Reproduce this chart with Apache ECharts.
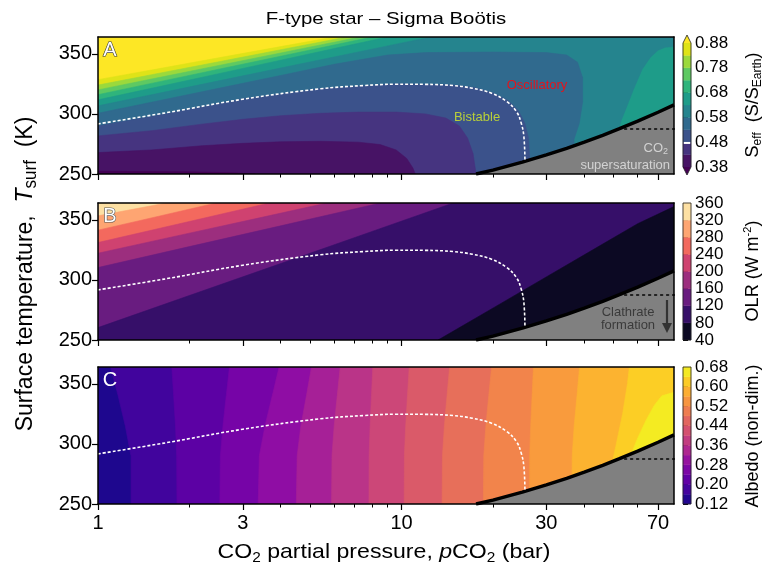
<!DOCTYPE html>
<html>
<head>
<meta charset="utf-8">
<script src="https://cdn.jsdelivr.net/npm/echarts@6/dist/echarts.min.js"></script>
<style>
  html, body { margin: 0; padding: 0; background: #fff; }
  #main { width: 766px; height: 574px; }
</style>
</head>
<body>
<div id="main"></div>
<script>
// axis ranges / ticks
const X_MIN = 1, X_MAX = 79;
const T_MIN = 250, T_MAX = 364;
const xMajorTicks = [1, 3, 10, 30, 70];
const xMinorTicks = [2, 4, 5, 6, 7, 8, 9, 20, 40, 50, 60];
const yTicks = [250, 300, 350];

// lines shared by all three panels (pCO2 bar, Tsurf K)
const satLine = [[17.6, 250], [20, 253.3], [25, 259.9], [30, 265.9], [35, 271.4], [40, 276.5], [46, 282.2], [52, 287.5], [60, 294], [70, 301.4], [79, 307.5]];
const satRegion = [[17.6, 250], [20, 253.3], [25, 259.9], [30, 265.9], [35, 271.4], [40, 276.5], [46, 282.2], [52, 287.5], [60, 294], [70, 301.4], [79, 307.5], [79, 250]];
const clathrateLine = [[52, 287.5], [79, 287.5]];
const bistableLine = [[1, 291.7], [1.68, 301], [3, 312.2], [5.36, 320.8], [7.5, 323.6], [9.57, 324.7], [12, 324.6], [14.8, 323.6], [17.1, 321.4], [19.8, 317.2], [22.2, 310.3], [23.9, 302], [24.8, 292.2], [25.3, 281], [25.5, 261]];

// panel A : Seff regions (value below level), painted top level first
const A_full = [[1, 250], [1, 364], [79, 364], [79, 250]];
const A_lt88 = [[1, 250], [1, 328.5], [1.5, 336.5], [2.5, 346.7], [4, 356], [6, 364], [79, 364], [79, 250]];
const A_lt83 = [[1, 250], [1, 324], [1.5, 332.6], [2.5, 343.4], [4, 353.4], [6.6, 364], [79, 364], [79, 250]];
const A_lt78 = [[1, 250], [1, 320], [1.5, 329], [2.5, 340.3], [4, 350.7], [7.3, 364], [79, 364], [79, 250]];
const A_lt73 = [[1, 250], [1, 316], [1.5, 325.4], [2.5, 337.2], [4, 348], [8, 364], [79, 364], [79, 250]];
const A_lt68 = [[1, 250], [1, 311.7], [1.5, 321.3], [2.5, 333.5], [4, 344.7], [6, 354.4], [9, 364], [79, 364], [79, 250]];
const A_lt63 = [[1, 250], [1, 306.7], [1.5, 315.9], [2.5, 327.5], [4, 338.2], [6, 347.4], [9, 356.6], [12.5, 364], [79, 364], [79, 356], [74, 355.5], [70, 353], [66, 347], [62, 337], [58, 320], [55, 305], [53, 295], [52, 288], [52, 250]];
const A_lt58 = [[1, 250], [1, 300.5], [1.5, 309.7], [2.5, 321.3], [4, 332], [6, 341.3], [9, 349], [12, 351], [20, 351.5], [30, 351], [35, 349], [38, 343], [39.5, 330], [39.5, 310], [38.5, 292], [37, 279], [37, 250]];
const A_lt53 = [[1, 250], [1, 290], [1.7, 300.5], [3, 312.5], [5.4, 321], [9.6, 325], [14.8, 324], [17.5, 321.8], [20, 317.5], [22.5, 311], [24.3, 302.5], [25.5, 292], [26.2, 280], [26.6, 250]];
const A_lt48 = [[1, 250], [1, 281.7], [1.5, 286], [2.2, 291.5], [3, 295.5], [4, 298.5], [5.4, 300.5], [7.2, 301.5], [9.6, 301.5], [12, 300], [14, 296.5], [15.5, 290], [16.5, 280], [17.2, 267], [17.6, 250]];
const A_lt43 = [[1, 250], [1, 267.8], [1.5, 270], [2.2, 273.5], [3, 275.5], [4, 276.8], [5.4, 277.2], [7.2, 276.5], [8.5, 274.5], [9.6, 270], [10.4, 263], [10.9, 255], [11.1, 250]];
const A_lt38 = [[1, 250], [1, 252.2], [2, 251.8], [2.8, 251], [3.3, 250]];
const A_colors = ['#fde725', '#dfe318', '#9bd93c', '#5ec962', '#2fb47c', '#1e9c89', '#25848e', '#306a8e', '#3b528b', '#463480', '#471365', '#440154'];

// panel B : OLR regions (value below level)
const B_full = [[1, 250], [1, 364], [79, 364], [79, 250]];
const B_lt320 = [[1, 250], [1, 353.3], [1.68, 364], [79, 364], [79, 250]];
const B_lt280 = [[1, 250], [1, 341.4], [1.6, 353.2], [2.45, 364], [79, 364], [79, 250]];
const B_lt240 = [[1, 250], [1, 331.1], [2, 348.6], [3.67, 364], [79, 364], [79, 250]];
const B_lt200 = [[1, 250], [1, 322.2], [2, 338.9], [3.5, 352.3], [5.68, 364], [79, 364], [79, 250]];
const B_lt160 = [[1, 250], [1, 310.3], [2, 327.7], [4, 345], [8.53, 364], [79, 364], [79, 250]];
const B_lt120 = [[1, 250], [1, 260.3], [2, 287], [4, 313.6], [8, 340.3], [14.8, 364], [79, 364], [79, 250]];
const B_lt80 = [[13.2, 250], [20, 276.5], [30, 302.5], [45, 328.4], [60, 346.8], [79, 361], [79, 250]];
const B_colors = ['#fde0a3', '#fea572', '#f3695e', '#cf4270', '#9c2e7e', '#691c80', '#360f69', '#0c0923'];

// panel C : albedo regions (value above level)
const C_full = [[1, 250], [1, 364], [79, 364], [79, 250]];
const C_gt16 = [[1.284, 250], [1.284, 290], [1.23, 315], [1.165, 340], [1.10, 364], [79, 364], [79, 250]];
const C_gt20 = [[1.82, 250], [1.816, 290], [1.80, 315], [1.775, 340], [1.75, 364], [79, 364], [79, 250]];
const C_gt24 = [[2.52, 250], [2.53, 290], [2.58, 315], [2.645, 340], [2.71, 364], [79, 364], [79, 250]];
const C_gt28 = [[3.37, 250], [3.40, 290], [3.55, 315], [3.75, 340], [3.95, 364], [79, 364], [79, 250]];
const C_gt32 = [[4.5, 250], [4.53, 290], [4.66, 315], [4.86, 340], [5.05, 364], [79, 364], [79, 250]];
const C_gt36 = [[5.88, 250], [5.9, 290], [6.0, 315], [6.14, 340], [6.28, 364], [79, 364], [79, 250]];
const C_gt40 = [[7.81, 250], [7.82, 290], [7.88, 315], [7.96, 340], [8.04, 364], [79, 364], [79, 250]];
const C_gt44 = [[10.2, 250], [10.22, 290], [10.32, 315], [10.46, 340], [10.6, 364], [79, 364], [79, 250]];
const C_gt48 = [[13.6, 250], [13.64, 290], [13.84, 315], [14.12, 340], [14.4, 364], [79, 364], [79, 250]];
const C_gt52 = [[18.6, 250], [18.66, 290], [18.96, 315], [19.38, 340], [19.8, 364], [79, 364], [79, 250]];
const C_gt56 = [[26.4, 250], [26.44, 290], [26.64, 315], [26.92, 340], [27.2, 364], [79, 364], [79, 250]];
const C_gt60 = [[36.4, 250], [36.5, 290], [37.05, 315], [37.85, 340], [38.6, 364], [79, 364], [79, 250]];
const C_gt64 = [[48, 250], [49, 280], [51, 300], [53.5, 325], [55.5, 350], [56.3, 364], [79, 364], [79, 250]];
const C_gt68 = [[57, 250], [57, 291], [60, 305], [64, 320], [68, 332], [72, 340], [79, 343], [79, 250]];
const C_colors = ['#1e078e', '#41049d', '#5c01a4', '#7604a7', '#8f0da4', '#a62097', '#ba3488', '#cc4778', '#da5a69', '#e76f5a', '#f2844b', '#f99b3d', '#fcb330', '#fcce25', '#f4eb22'];

// colour bars
const cbLevelsA = [0.38, 0.43, 0.48, 0.53, 0.58, 0.63, 0.68, 0.73, 0.78, 0.83, 0.88];
const cbTicksA = [0.38, 0.48, 0.58, 0.68, 0.78, 0.88];
const cbMarkA = 0.477;
const cbLevelsB = [40, 80, 120, 160, 200, 240, 280, 320, 360];
const cbTicksB = [40, 80, 120, 160, 200, 240, 280, 320, 360];
const cbLevelsC = [0.12, 0.16, 0.20, 0.24, 0.28, 0.32, 0.36, 0.40, 0.44, 0.48, 0.52, 0.56, 0.60, 0.64, 0.68];
const cbTicksC = [0.12, 0.20, 0.28, 0.36, 0.44, 0.52, 0.60, 0.68];
const cbColorsC = ['#220690', '#44049e', '#6101a6', '#7c07a6', '#9613a0', '#af2891', '#c23d81', '#d45170', '#e26660', '#ee7d50', '#f79540', '#fcae32', '#fccb26', '#f4e922'];

const regionsA = [A_full, A_lt88, A_lt83, A_lt78, A_lt73, A_lt68, A_lt63, A_lt58, A_lt53, A_lt48, A_lt43, A_lt38];
const regionsB = [B_full, B_lt320, B_lt280, B_lt240, B_lt200, B_lt160, B_lt120, B_lt80];
const regionsC = [C_full, C_gt16, C_gt20, C_gt24, C_gt28, C_gt32, C_gt36, C_gt40, C_gt44, C_gt48, C_gt52, C_gt56, C_gt60, C_gt64, C_gt68];

const FONT = '"Liberation Sans", Arial, sans-serif';
const LX0 = Math.log10(X_MIN), LX1 = Math.log10(X_MAX);
const lg = d => [Math.log10(d[0]), d[1]];

const chart = echarts.init(document.getElementById('main'));

const panelTops = [37, 203, 367];
const grids = panelTops.map(t => ({ left: 98, top: t, width: 576, height: 137 }));
grids.push({ left: 683, top: 43, width: 8, height: 124 });
grids.push({ left: 683, top: 203, width: 8, height: 137 });
grids.push({ left: 683, top: 367, width: 8, height: 137 });

const blackLine = { show: true, onZero: false, lineStyle: { color: '#000', width: 1.5 } };
let xAxes = [], yAxes = [];
for (let g = 0; g < 3; g++) {
  xAxes.push({
    type: 'value', gridIndex: g, min: LX0, max: LX1, position: 'bottom', z: 10,
    axisLine: blackLine,
    axisTick: { show: true, customValues: xMajorTicks.map(v => Math.log10(v)), length: 6, lineStyle: { color: '#000', width: 1.2 } },
    axisLabel: {
      show: g === 2, customValues: xMajorTicks.map(v => Math.log10(v)),
      formatter: v => String(Math.round(Math.pow(10, v))),
      fontSize: 20, fontFamily: FONT, color: '#000', margin: 9
    },
    splitLine: { show: false }
  });
  xAxes.push({
    type: 'value', gridIndex: g, min: LX0, max: LX1, position: 'bottom', z: 10,
    axisLine: { show: false },
    axisTick: { show: true, customValues: xMinorTicks.map(v => Math.log10(v)), length: 3.5, lineStyle: { color: '#000', width: 1 } },
    axisLabel: { show: false }, splitLine: { show: false }
  });
  xAxes.push({
    type: 'value', gridIndex: g, min: LX0, max: LX1, position: 'top', z: 10,
    axisLine: blackLine, axisTick: { show: false }, axisLabel: { show: false }, splitLine: { show: false }
  });
  yAxes.push({
    type: 'value', gridIndex: g, min: T_MIN, max: T_MAX, position: 'left', z: 10,
    axisLine: blackLine,
    axisTick: { show: true, customValues: yTicks, length: 6, lineStyle: { color: '#000', width: 1.2 } },
    axisLabel: { customValues: yTicks, fontSize: 20, fontFamily: FONT, color: '#000', margin: 6 },
    splitLine: { show: false }
  });
  yAxes.push({
    type: 'value', gridIndex: g, min: T_MIN, max: T_MAX, position: 'right', z: 10,
    axisLine: blackLine, axisTick: { show: false }, axisLabel: { show: false }, splitLine: { show: false }
  });
}
const cbDefs = [
  { levels: cbLevelsA, ticks: cbTicksA, fmt: v => v.toFixed(2) },
  { levels: cbLevelsB, ticks: cbTicksB, fmt: v => String(v) },
  { levels: cbLevelsC, ticks: cbTicksC, fmt: v => v.toFixed(2) }
];
cbDefs.forEach((d, i) => {
  xAxes.push({ type: 'value', gridIndex: 3 + i, min: 0, max: 1, show: false });
  yAxes.push({
    type: 'value', gridIndex: 3 + i, min: d.levels[0], max: d.levels[d.levels.length - 1], position: 'right',
    axisLine: { show: false },
    axisTick: { show: true, customValues: d.ticks, length: 5, lineStyle: { color: '#000', width: 1 } },
    axisLabel: {
      customValues: d.ticks, formatter: d.fmt, fontSize: 17, lineHeight: 14, fontFamily: FONT, color: '#000', margin: 4
    },
    splitLine: { show: false }
  });
});

function regionSeries(xi, yi, regions, colors, z) {
  return {
    type: 'custom', xAxisIndex: xi, yAxisIndex: yi, z: z, clip: true, silent: true,
    data: regions.map((r, i) => [i]),
    renderItem: function (params, api) {
      const i = params.dataIndex;
      const pts = regions[i].map(d => api.coord(lg(d)));
      return { type: 'polygon', shape: { points: pts }, style: { fill: colors[i], stroke: colors[i], lineWidth: 0.6 } };
    }
  };
}
function lineSeries(xi, yi, pts, style, z, smooth) {
  return {
    type: 'line', xAxisIndex: xi, yAxisIndex: yi, data: pts.map(lg), symbol: 'none',
    lineStyle: style, z: z, silent: true, smooth: smooth || false, clip: true
  };
}
function cbarSeries(k, levels, colors) {
  return {
    type: 'custom', xAxisIndex: 9 + k, yAxisIndex: 6 + k, clip: false, silent: true, z: 2,
    data: colors.map((c, i) => [i]),
    renderItem: function (params, api) {
      const i = params.dataIndex;
      const a = api.coord([0, levels[i]]), b = api.coord([1, levels[i + 1]]);
      return { type: 'rect', shape: { x: a[0], y: b[1], width: b[0] - a[0], height: a[1] - b[1] }, style: { fill: colors[i], stroke: colors[i], lineWidth: 0.4 } };
    }
  };
}
function cbarFrame(k, lo, hi, ext) {
  return {
    type: 'custom', xAxisIndex: 9 + k, yAxisIndex: 6 + k, clip: false, silent: true, z: 3,
    data: [[0]],
    renderItem: function (params, api) {
      const a = api.coord([0, lo]), b = api.coord([1, hi]);
      const mid = (a[0] + b[0]) / 2;
      const children = [];
      if (ext) {
        children.push({ type: 'polygon', shape: { points: [[a[0], a[1]], [b[0], a[1]], [mid, a[1] + 8]] }, style: { fill: ext[0] } });
        children.push({ type: 'polygon', shape: { points: [[a[0], b[1]], [b[0], b[1]], [mid, b[1] - 8]] }, style: { fill: ext[1] } });
        children.push({ type: 'polygon', shape: { points: [[a[0], a[1]], [mid, a[1] + 8], [b[0], a[1]], [b[0], b[1]], [mid, b[1] - 8], [a[0], b[1]]] }, style: { fill: 'none', stroke: '#222', lineWidth: 0.8 } });
      } else {
        children.push({ type: 'rect', shape: { x: a[0], y: b[1], width: b[0] - a[0], height: a[1] - b[1] }, style: { fill: 'none', stroke: '#222', lineWidth: 0.8 } });
      }
      return { type: 'group', children: children };
    }
  };
}

let series = [];
const panelRegions = [[regionsA, A_colors], [regionsB, B_colors], [regionsC, C_colors]];
panelRegions.forEach((pr, g) => {
  const xi = g * 3, yi = g * 2;
  series.push(regionSeries(xi, yi, pr[0], pr[1], 1));
  series.push(regionSeries(xi, yi, [satRegion], ['#808080'], 2));
  series.push(lineSeries(xi, yi, clathrateLine, { color: '#222', width: 2, type: [1.5, 4.5], cap: 'round' }, 3));
  series.push(lineSeries(xi, yi, satLine, { color: '#000', width: 3.4 }, 4));
  series.push(lineSeries(xi, yi, bistableLine, { color: '#fff', width: 1.6, type: [3, 2] }, 5, 0.4));
});
series.push(cbarSeries(0, cbLevelsA, A_colors.slice(1, 11).reverse()));
series.push(cbarSeries(1, cbLevelsB, B_colors.slice().reverse()));
series.push(cbarSeries(2, cbLevelsC, cbColorsC));
series.push(cbarFrame(0, 0.38, 0.88, ['#440154', '#fde725']));
series.push(cbarFrame(1, 40, 360, null));
series.push(cbarFrame(2, 0.12, 0.68, null));
series.push({
  type: 'custom', xAxisIndex: 9, yAxisIndex: 6, clip: false, silent: true, z: 4, data: [[0]],
  renderItem: function (params, api) {
    const a = api.coord([0.1, cbMarkA]), b = api.coord([0.9, cbMarkA]);
    return { type: 'line', shape: { x1: a[0], y1: a[1], x2: b[0], y2: b[1] }, style: { stroke: '#fff', lineWidth: 2 } };
  }
});

const graphic = [
  { type: 'text', x: 386, y: 19, scaleX: 1.2, style: { text: 'F-type star \u2013 Sigma Bo\u00f6tis', fontSize: 17, fontFamily: FONT, fill: '#000', align: 'center', verticalAlign: 'middle' } },
  {
    type: 'text', x: 384, y: 552, scaleX: 1.1,
    style: {
      text: '{a|CO}{s|2}{a| partial pressure, }{i|p}{a|CO}{s|2}{a| (bar)}', align: 'center', verticalAlign: 'middle',
      rich: {
        a: { fontSize: 21, fontFamily: FONT, fill: '#000', lineHeight: 26, verticalAlign: 'middle' },
        i: { fontSize: 21, fontFamily: FONT, fontStyle: 'italic', fill: '#000', lineHeight: 26, verticalAlign: 'middle' },
        s: { fontSize: 14, fontFamily: FONT, fill: '#000', lineHeight: 15, verticalAlign: 'bottom' }
      }
    }
  },
  {
    type: 'text', x: 25, y: 274, rotation: Math.PI / 2, scaleY: 1.05,
    style: {
      text: '{a|Surface temperature,  }{i|T}{s|surf}{a|  (K)}', align: 'center', verticalAlign: 'middle',
      rich: {
        a: { fontSize: 23, fontFamily: FONT, fill: '#000', lineHeight: 28, verticalAlign: 'middle' },
        i: { fontSize: 23, fontFamily: FONT, fontStyle: 'italic', fill: '#000', lineHeight: 28, verticalAlign: 'middle' },
        s: { fontSize: 17, fontFamily: FONT, fill: '#000', lineHeight: 16, verticalAlign: 'bottom' }
      }
    }
  },
  {
    type: 'text', x: 753, y: 105, rotation: Math.PI / 2,
    style: {
      text: '{a|S}{s|eff}{a|  (S/S}{s|Earth}{a|)}', align: 'center', verticalAlign: 'middle',
      rich: {
        a: { fontSize: 18, fontFamily: FONT, fill: '#000', lineHeight: 22, verticalAlign: 'middle' },
        s: { fontSize: 12, fontFamily: FONT, fill: '#000', lineHeight: 12, verticalAlign: 'bottom' }
      }
    }
  },
  {
    type: 'text', x: 753, y: 271, rotation: Math.PI / 2,
    style: {
      text: '{a|OLR (W m}{u|-2}{a|)}', align: 'center', verticalAlign: 'middle',
      rich: {
        a: { fontSize: 18, fontFamily: FONT, fill: '#000', lineHeight: 22, verticalAlign: 'middle' },
        u: { fontSize: 11, fontFamily: FONT, fill: '#000', lineHeight: 11, verticalAlign: 'top' }
      }
    }
  },
  { type: 'text', x: 753, y: 436, rotation: Math.PI / 2, style: { text: 'Albedo (non-dim.)', fontSize: 18, fontFamily: FONT, fill: '#000', align: 'center', verticalAlign: 'middle' } },
  // panel letters
  { type: 'text', x: 110, y: 50, z: 20, style: { text: 'A', fontSize: 20, fontFamily: FONT, fill: '#fff', stroke: '#333', lineWidth: 1.2, align: 'center', verticalAlign: 'middle' } },
  { type: 'text', x: 110, y: 216, z: 20, style: { text: 'B', fontSize: 20, fontFamily: FONT, fill: '#fff', stroke: '#555', lineWidth: 1.2, align: 'center', verticalAlign: 'middle' } },
  { type: 'text', x: 110, y: 380, z: 20, style: { text: 'C', fontSize: 20, fontFamily: FONT, fill: '#fff', align: 'center', verticalAlign: 'middle' } },
  // annotations
  { type: 'text', x: 537, y: 85, z: 20, style: { text: 'Oscillatory', fontSize: 13, fontFamily: FONT, fill: '#e3141c', align: 'center', verticalAlign: 'middle' } },
  { type: 'text', x: 477, y: 117, z: 20, style: { text: 'Bistable', fontSize: 13, fontFamily: FONT, fill: '#b8cf3a', align: 'center', verticalAlign: 'middle' } },
  {
    type: 'text', x: 668, y: 148, z: 20,
    style: {
      text: '{a|CO}{s|2}', align: 'right', verticalAlign: 'middle',
      rich: { a: { fontSize: 13, fontFamily: FONT, fill: '#d2d2d2', lineHeight: 16, verticalAlign: 'middle' }, s: { fontSize: 9, fontFamily: FONT, fill: '#d2d2d2', lineHeight: 9, verticalAlign: 'bottom' } }
    }
  },
  { type: 'text', x: 670, y: 165, z: 20, style: { text: 'supersaturation', fontSize: 13, fontFamily: FONT, fill: '#d2d2d2', align: 'right', verticalAlign: 'middle' } },
  { type: 'text', x: 628, y: 312, z: 20, style: { text: 'Clathrate', fontSize: 13, fontFamily: FONT, fill: '#3a3a3a', align: 'center', verticalAlign: 'middle' } },
  { type: 'text', x: 628, y: 325, z: 20, style: { text: 'formation', fontSize: 13, fontFamily: FONT, fill: '#3a3a3a', align: 'center', verticalAlign: 'middle' } },
  { type: 'line', z: 20, shape: { x1: 667, y1: 300, x2: 667, y2: 325 }, style: { stroke: '#333', lineWidth: 2.2 } },
  { type: 'polygon', z: 20, shape: { points: [[662, 323], [672, 323], [667, 333]] }, style: { fill: '#333' } }
];

chart.setOption({
  animation: false,
  backgroundColor: '#fff',
  grid: grids,
  xAxis: xAxes,
  yAxis: yAxes,
  series: series,
  graphic: graphic
});
</script>
</body>
</html>
